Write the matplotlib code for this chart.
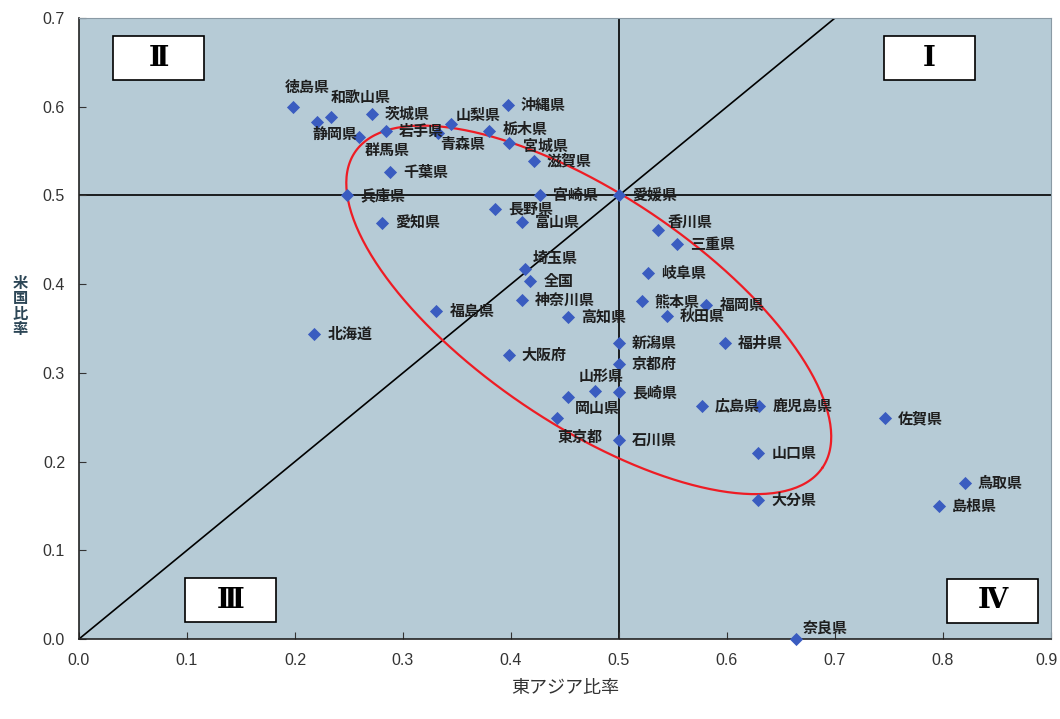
import numpy as np
import matplotlib
matplotlib.use("Agg")
import matplotlib.pyplot as plt
import matplotlib.transforms as mtransforms
from matplotlib.patches import Rectangle

plt.rcParams['font.family'] = ['Noto Sans CJK JP', 'DejaVu Sans']

# 都道府県別：東アジア比率 (x) と 米国比率 (y)
names = ['徳島県', '和歌山県', '茨城県', '静岡県', '群馬県', '岩手県', '青森県', '山梨県',
         '栃木県', '沖縄県', '宮城県', '滋賀県', '千葉県', '兵庫県', '愛知県', '宮崎県',
         '長野県', '富山県', '愛媛県', '香川県', '三重県', '岐阜県', '熊本県', '福岡県',
         '秋田県', '新潟県', '福井県', '埼玉県', '全国', '神奈川県', '高知県', '福島県',
         '北海道', '大阪府', '京都府', '山形県', '長崎県', '岡山県', '東京都', '石川県',
         '広島県', '鹿児島県', '佐賀県', '山口県', '鳥取県', '大分県', '島根県', '奈良県']
east_asia = [0.198, 0.233, 0.271, 0.220, 0.259, 0.284, 0.332, 0.344,
             0.380, 0.397, 0.398, 0.421, 0.288, 0.248, 0.281, 0.427,
             0.385, 0.410, 0.500, 0.536, 0.554, 0.527, 0.521, 0.581,
             0.544, 0.500, 0.598, 0.413, 0.418, 0.410, 0.453, 0.331,
             0.218, 0.398, 0.500, 0.478, 0.500, 0.453, 0.443, 0.500,
             0.577, 0.630, 0.746, 0.629, 0.820, 0.629, 0.796, 0.664]
usa = [0.600, 0.588, 0.592, 0.583, 0.566, 0.573, 0.570, 0.581,
       0.573, 0.602, 0.559, 0.539, 0.526, 0.500, 0.469, 0.500,
       0.485, 0.470, 0.500, 0.461, 0.445, 0.413, 0.381, 0.377,
       0.364, 0.334, 0.334, 0.417, 0.404, 0.382, 0.363, 0.370,
       0.344, 0.320, 0.310, 0.280, 0.278, 0.273, 0.249, 0.224,
       0.263, 0.263, 0.249, 0.210, 0.176, 0.157, 0.150, 0.000]

x_ticks = [0.0, 0.1, 0.2, 0.3, 0.4, 0.5, 0.6, 0.7, 0.8, 0.9]
y_ticks = [0.0, 0.1, 0.2, 0.3, 0.4, 0.5, 0.6, 0.7]
quadrants = ['Ⅰ', 'Ⅱ', 'Ⅲ', 'Ⅳ']

# label placement (pixels from the marker); default is to the right
label_offset = {
    '徳島県': (-8, 20), '和歌山県': (0, 20), '静岡県': (-4, -12), '群馬県': (6, -13),
    '青森県': (3, -11), '山梨県': (5, 9), '埼玉県': (8, 11), '香川県': (10, 8),
    '山形県': (-17, 15), '岡山県': (7, -11), '東京都': (0, -19), '奈良県': (7, 11),
    '栃木県': (13, 2), '宮城県': (14, -3),
}

fig = plt.figure(figsize=(10.6, 7.19), dpi=100)
ax = fig.add_axes([79 / 1060, 80 / 719, 972 / 1060, 621 / 719])
ax.set_facecolor('#b6cbd6')
ax.set_xlim(0, 0.9)
ax.set_ylim(0, 0.7)

# reference lines
ax.axvline(0.5, color='black', lw=1.2, zorder=1)
ax.axhline(0.5, color='black', lw=1.2, zorder=1)
ax.plot([0, 0.7], [0, 0.7], color='black', lw=1.2, zorder=1)

ax.scatter(east_asia, usa, marker='D', s=45, color='#3a5cc0', zorder=3,
           clip_on=False, linewidths=0)

for n, x, y in zip(names, east_asia, usa):
    dx, dy = label_offset.get(n, (13, 0))
    ax.annotate(n, (x, y), xytext=(dx, dy), textcoords='offset pixels',
                ha='left', va='center', fontsize=10.8, fontweight='bold',
                color='#1e1e1e', zorder=4)

# red ellipse drawn in screen space around the central group
cx, cy = ax.transData.transform((0.472, 0.371))
t = np.linspace(0, 2 * np.pi, 300)
a, b, ang = 282, 115, np.deg2rad(-34)
ex = cx + a * np.cos(t) * np.cos(ang) - b * np.sin(t) * np.sin(ang)
ey = cy + a * np.cos(t) * np.sin(ang) + b * np.sin(t) * np.cos(ang)
pts = ax.transData.inverted().transform(np.column_stack([ex, ey]))
ax.plot(pts[:, 0], pts[:, 1], color='#ee1c24', lw=1.6, zorder=2)

# quadrant boxes
box_pos = [(884, 36), (113, 36), (185, 578), (947, 579)]
for q, (bx, by) in zip(quadrants, box_pos):
    r = Rectangle((bx / 1060, 1 - (by + 44) / 719), 91 / 1060, 44 / 719,
                  transform=fig.transFigure, facecolor='white',
                  edgecolor='black', lw=1.2, zorder=5)
    fig.add_artist(r)
    fig.text((bx + 45.5) / 1060, 1 - (by + 22) / 719, q, ha='center', va='center',
             fontsize=20, fontweight='bold', family=['DejaVu Serif', 'Noto Sans CJK JP'],
             zorder=6)

ax.set_xticks(x_ticks)
ax.set_yticks(y_ticks)
ax.set_xticklabels([f'{v:.1f}' for v in x_ticks])
ax.set_yticklabels([f'{v:.1f}' for v in y_ticks])
ax.tick_params(direction='in', length=5, labelsize=11.5, colors='#333333', pad=10)
for lab in ax.get_xticklabels() + ax.get_yticklabels():
    lab.set_family(['Liberation Sans Narrow', 'Liberation Sans', 'DejaVu Sans'])
# keep the last x label inside the canvas
last = ax.get_xticklabels()[-1]
last.set_transform(last.get_transform() +
                   mtransforms.ScaledTranslation(-4 / 100, 0, fig.dpi_scale_trans))
for s in ['left', 'bottom']:
    ax.spines[s].set_color('#222222')
    ax.spines[s].set_linewidth(1.2)
for s in ['top', 'right']:
    ax.spines[s].set_color('#8a9aa5')

ax.set_xlabel('東アジア比率', fontsize=13, color='#333333', labelpad=8)
fig.text(20 / 1060, 1 - 306 / 719, '米\n国\n比\n率', ha='center', va='center',
         fontsize=11, color='#2c4656', fontweight='bold', linespacing=0.95)

fig.savefig('out.png', dpi=100)
